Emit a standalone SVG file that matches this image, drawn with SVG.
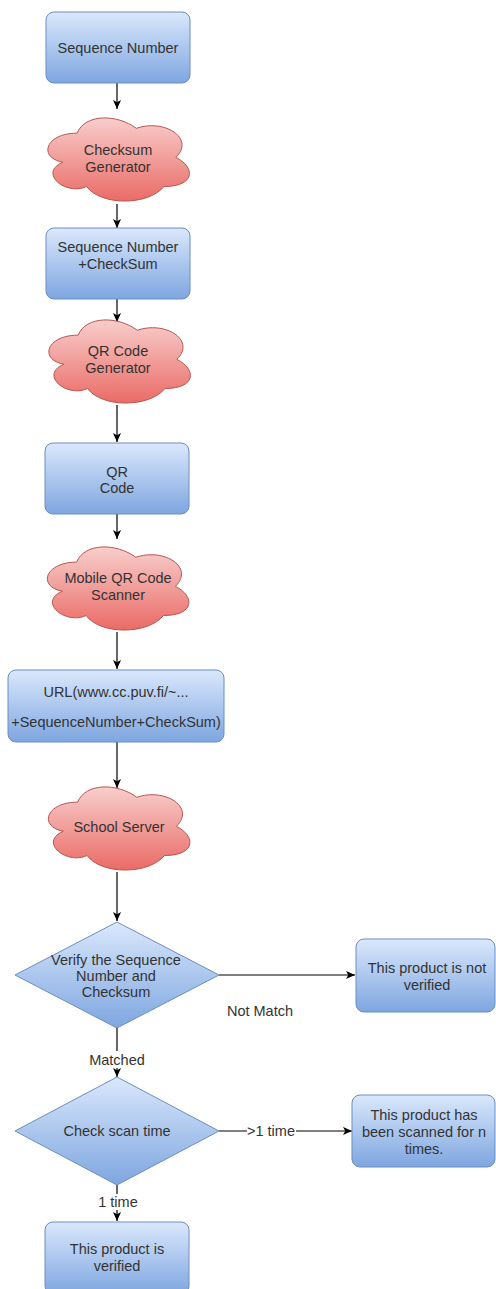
<svg xmlns="http://www.w3.org/2000/svg" xmlns:xlink="http://www.w3.org/1999/xlink" width="496" height="1289" viewBox="0 0 496 1289">
<defs>
<linearGradient id="gBlue" x1="0" y1="0" x2="0" y2="1"><stop offset="0" stop-color="#dae8fc"/><stop offset="1" stop-color="#7ea6e0"/></linearGradient>
<linearGradient id="gRed" x1="0" y1="0" x2="0" y2="1"><stop offset="0" stop-color="#f8cecc"/><stop offset="1" stop-color="#ea6b66"/></linearGradient>
<path id="cloud" d="M39.5,24.25 C7.9,24.25 0,48.5 25.28,53.35 C0,64.02 28.44,87.3 48.98,77.6 C63.2,97 110.6,97 126.4,77.6 C158,77.6 158,58.2 138.25,48.5 C158,29.1 126.4,9.7 98.75,19.4 C79,4.85 47.4,4.85 39.5,24.25 Z"/>
<marker id="arr" viewBox="0 0 10 10" refX="10" refY="5" markerWidth="9" markerHeight="9" markerUnits="userSpaceOnUse" orient="auto"><path d="M0,0.5 L10,5 L0,9.5 L2.5,5 Z" fill="#000"/></marker>
<style>
.box{fill:url(#gBlue);stroke:#6c8ebf;stroke-width:1}
.cl{fill:url(#gRed);stroke:#b85450;stroke-width:1}
.t{font-family:"Liberation Sans",Arial,sans-serif;font-size:14.5px;fill:#333;text-anchor:middle}
.e{stroke:#000;stroke-width:1.2;fill:none;marker-end:url(#arr)}
.lb{fill:#fff}
</style>
</defs>

<g id="connectors">
<line class="e" x1="117" y1="83" x2="117" y2="109"/>
<line class="e" x1="117" y1="204" x2="117" y2="228"/>
<line class="e" x1="117" y1="299" x2="117" y2="322"/>
<line class="e" x1="117" y1="405" x2="117" y2="442"/>
<line class="e" x1="117" y1="514" x2="117" y2="539"/>
<line class="e" x1="117" y1="632" x2="117" y2="669"/>
<line class="e" x1="117" y1="742" x2="117" y2="788"/>
<line class="e" x1="117" y1="872" x2="117" y2="921"/>
<line class="e" x1="219" y1="975" x2="355" y2="975"/>
<text class="t" x="260" y="1016">Not Match</text>
<line class="e" x1="117" y1="1028" x2="117" y2="1077"/>
<rect class="lb" x="89" y="1051" width="56" height="17"/>
<text class="t" x="117" y="1065">Matched</text>
<line class="e" x1="219" y1="1131" x2="352" y2="1131"/>
<rect class="lb" x="247" y="1123" width="49" height="16"/>
<text class="t" x="271" y="1136">&gt;1 time</text>
<line class="e" x1="117" y1="1185" x2="117" y2="1221"/>
<rect class="lb" x="97" y="1194" width="42" height="16"/>
<text class="t" x="118" y="1207">1 time</text>
</g>

<g id="n1"><rect class="box" x="46" y="12" width="144" height="71" rx="8"/><text class="t" x="118" y="53">Sequence Number</text></g>
<g id="n2"><use href="#cloud" class="cl" x="37.6" y="108.9"/><text class="t" x="118" y="155">Checksum</text><text class="t" x="118" y="172">Generator</text></g>
<g id="n3"><rect class="box" x="46" y="228" width="144" height="71" rx="8"/><text class="t" x="118" y="252">Sequence Number</text><text class="t" x="118" y="269">+CheckSum</text></g>
<g id="n4"><use href="#cloud" class="cl" x="38.6" y="310.9"/><text class="t" x="118" y="356">QR Code</text><text class="t" x="118" y="373">Generator</text></g>
<g id="n5"><rect class="box" x="45" y="443" width="144" height="71" rx="8"/><text class="t" x="117" y="477">QR</text><text class="t" x="117" y="493">Code</text></g>
<g id="n6"><use href="#cloud" class="cl" x="37.1" y="537.9"/><text class="t" x="118" y="583">Mobile QR Code</text><text class="t" x="118" y="600">Scanner</text></g>
<g id="n7"><rect class="box" x="8" y="670" width="216" height="72" rx="8"/><text class="t" x="116" y="697">URL(www.cc.puv.fi/~...</text><text class="t" x="116" y="727">+SequenceNumber+CheckSum)</text></g>
<g id="n8"><use href="#cloud" class="cl" x="38.1" y="777.9"/><text class="t" x="119" y="832">School Server</text></g>
<g id="n9"><polygon class="box" points="117,922 219,975 117,1028 15,975"/><text class="t" x="116" y="965">Verify the Sequence</text><text class="t" x="116" y="981">Number and</text><text class="t" x="116" y="997">Checksum</text></g>
<g id="n10"><rect class="box" x="356" y="939" width="139" height="73" rx="8"/><text class="t" x="427" y="973">This product is not</text><text class="t" x="427" y="990">verified</text></g>
<g id="n11"><polygon class="box" points="117,1077 219,1131 117,1185 15,1131"/><text class="t" x="117" y="1136">Check scan time</text></g>
<g id="n12"><rect class="box" x="352" y="1095" width="143" height="72" rx="8"/><text class="t" x="424" y="1120">This product has</text><text class="t" x="424" y="1137">been scanned for n</text><text class="t" x="424" y="1154">times.</text></g>
<g id="n13"><rect class="box" x="45" y="1222" width="144" height="72" rx="8"/><text class="t" x="117" y="1254">This product is</text><text class="t" x="117" y="1271">verified</text></g>
</svg>
